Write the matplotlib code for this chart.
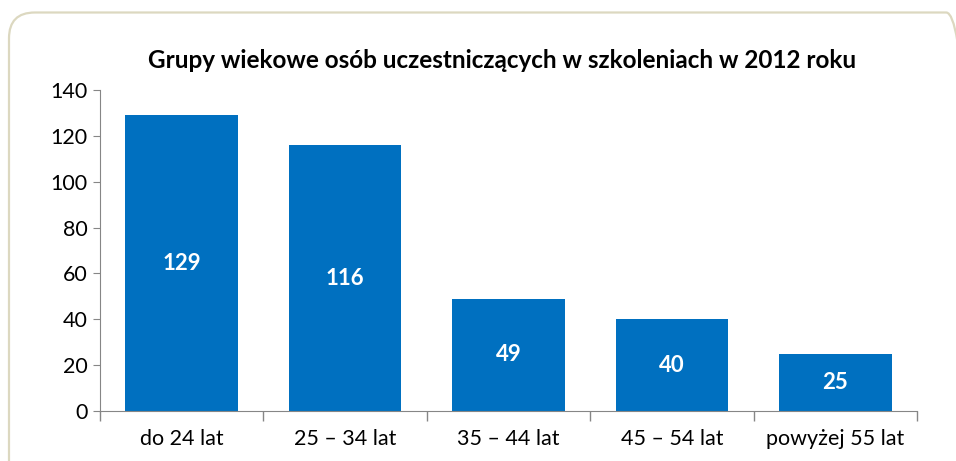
import matplotlib
matplotlib.use("Agg")
import matplotlib.pyplot as plt
from matplotlib.patches import FancyBboxPatch

categories = ["do 24 lat", "25 – 34 lat", "35 – 44 lat", "45 – 54 lat", "powyżej 55 lat"]
values = [129, 116, 49, 40, 25]
title = "Grupy wiekowe osób uczestniczących w szkoleniach w 2012 roku"

plt.rcParams['font.family'] = ['Lato', 'DejaVu Sans']

fig = plt.figure(figsize=(9.56, 4.61), dpi=100)
W, H = 956, 461

# rounded frame around the chart (runs off the right and bottom edges)
frame = FancyBboxPatch((9 / W, -40 / H), (972 - 9) / W, (H - 12.5 + 40) / H,
                       boxstyle="round,pad=0,rounding_size=0.027",
                       transform=fig.transFigure, fill=False,
                       edgecolor="#dcd8c0", linewidth=1.6, mutation_aspect=W / H)
fig.patches.append(frame)

ax = fig.add_axes([100 / W, 1 - 411 / H, (917 - 100) / W, (411 - 90) / H])
x = range(len(categories))
ax.bar(x, values, width=0.69, color="#0070c0")
for xi, v in zip(x, values):
    ax.text(xi, v / 2, str(v), ha="center", va="center", color="white",
            fontsize=16, fontweight="bold")

ax.set_xlim(-0.5, len(categories) - 0.5)
ax.set_ylim(0, 140)
ax.set_yticks(range(0, 141, 20))
ax.set_xticks(x)
ax.set_xticklabels(categories)
ax.set_xticks([i - 0.5 for i in range(len(categories) + 1)], minor=True)
ax.tick_params(axis="x", which="major", length=0, labelsize=15.5, pad=13)
ax.tick_params(axis="x", which="minor", length=7, color="#868686", width=1)
ax.tick_params(axis="y", length=5, color="#868686", labelsize=15.5, pad=4)
for s in ["top", "right"]:
    ax.spines[s].set_visible(False)
for s in ["left", "bottom"]:
    ax.spines[s].set_color("#868686")

fig.text(502 / W, 1 - 60 / H, title, ha="center", va="center",
         fontsize=17.5, fontweight="bold")

fig.savefig("out.png", dpi=100)
